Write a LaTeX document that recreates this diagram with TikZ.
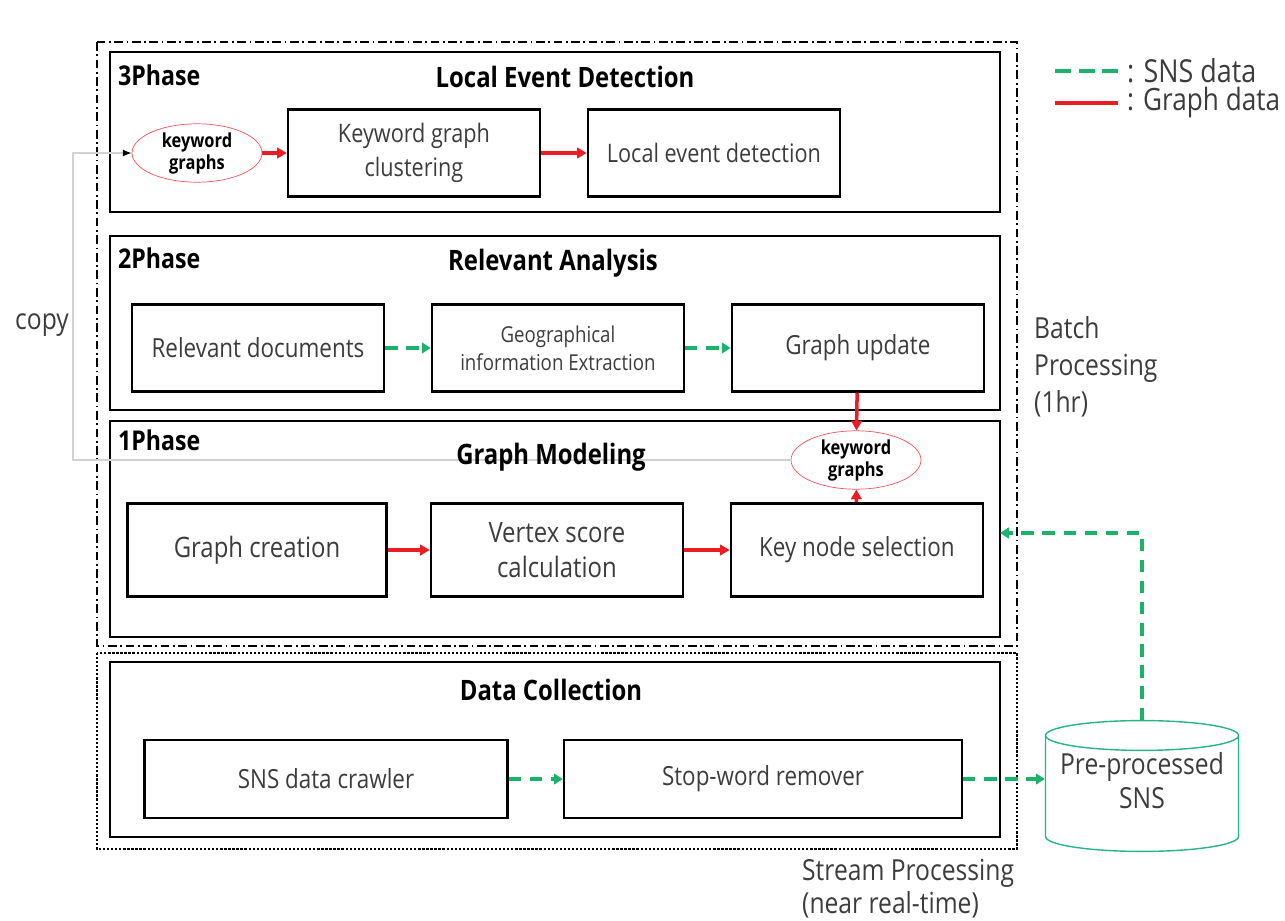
\documentclass[tikz,border=0pt]{standalone}
\usepackage{fontspec}
\setmainfont{Open Sans}[FakeStretch=0.85]
\usepackage{xcolor}
\usetikzlibrary{positioning}
\usetikzlibrary{arrows.meta}
\usetikzlibrary{shapes.geometric}
\definecolor{snsgreen}{RGB}{29,178,108}
\definecolor{graphred}{RGB}{236,28,36}
\definecolor{storeedge}{RGB}{40,180,135}
\definecolor{boxtext}{RGB}{60,60,60}
\tikzset{	node distance=6cm,
	phasebox/.style={
		draw,
		line width=1.4pt,
		minimum width=17.8cm},
	block/.style={
		draw,
		line width=1.4pt,
		align=center,
		text=boxtext,
		font=\fontsize{15}{19}\selectfont,
		minimum width=5.04cm,
		minimum height=1.74cm},
	kwgraph/.style={
		ellipse,
		draw=graphred!75,
		thin,
		align=center,
		inner sep=0pt,
		font=\bfseries\fontsize{11}{12.5}\selectfont,
		minimum width=2.6cm,
		minimum height=0.88cm},
	store/.style={
		cylinder,
		shape border rotate=90,
		aspect=0.17,
		draw=storeedge,
		thick,
		align=center,
		text=boxtext,
		text depth=18pt,
		inner ysep=1pt,
		font=\fontsize{16.5}{19}\selectfont,
		minimum width=3.86cm,
		minimum height=2.34cm},
	title/.style={font=\bfseries\fontsize{16}{19}\selectfont},
	phaselabel/.style={font=\bfseries\fontsize{15.5}{19}\selectfont, anchor=west},
	sidetext/.style={font=\fontsize{16.5}{21}\selectfont, text=boxtext, align=left},
	snsflow/.style={
		draw=snsgreen,
		line width=2.3pt,
		dash pattern=on 7pt off 5pt,
		-{Triangle[length=5pt,width=6pt]}},
	graphflow/.style={
		draw=graphred,
		line width=2pt,
		-{Triangle[length=5.5pt,width=6pt]}},
	copyline/.style={
		draw=gray!35,
		line width=0.8pt,
		-{Latex[length=5pt,width=4pt,color=black]}},
	batchline/.style={
		line width=0.9pt,
		dash pattern=on 5pt off 2pt on 1pt off 2pt},
	streamline/.style={
		line width=1.3pt,
		densely dotted}
}
\begin{document}
\begin{tikzpicture}[x=0.02cm,y=-0.02cm]
	\useasboundingbox (0,0) rectangle (1285,920);
	% processing frames
	\draw[batchline] (97,42) rectangle (1017,646);
	\draw[streamline] (97,653) rectangle (1017,849);
	% phase boxes
	\node[phasebox, minimum height=3.2cm] (p3) at (555,132) {};
	\node[phasebox, minimum height=3.48cm] (p2) at (555,323) {};
	\node[phasebox, minimum height=4.32cm] (p1) at (555,529) {};
	\node[phasebox, minimum height=3.5cm] (p0) at (555,749.5) {};
	% copy path (drawn below the titles)
	\node[kwgraph] (kw3) at (197,153) {keyword\\graphs};
	\node[kwgraph] (kw1) at (856,460) {keyword\\graphs};
	\coordinate (copyturn) at (73,300);
	\draw[copyline] (kw1.west) -| (copyturn) |- (kw3.west);
	\node[sidetext] (copy) at (42,325) {copy};
	% 3Phase
	\node[phaselabel] (l3) at (112,75) {3Phase};
	\node[title] (t3) at (565,77) {Local Event Detection};
	\node[block, font=\fontsize{14.5}{19}\selectfont] (cluster) at (414,153) {Keyword graph\\clustering};
	\node[block, font=\fontsize{14.5}{19}\selectfont, right of=cluster] (detect) {Local event detection};
	% 2Phase
	\node[phaselabel] (l2) at (112,258) {2Phase};
	\node[title] (t2) at (553,263) {Relevant Analysis};
	\node[block] (reldoc) at (258,348) {Relevant documents};
	\node[block, font=\fontsize{12.5}{16}\selectfont, right of=reldoc] (geo) {Geographical\\information Extraction};
	\node[block, right of=geo] (update) {Graph update};
	% 1Phase
	\node[phaselabel] (l1) at (112,440) {1Phase};
	\node[title] (t1) at (551,457) {Graph Modeling};
	\node[block, minimum width=5.18cm, minimum height=1.86cm, font=\fontsize{16}{20}\selectfont] (create) at (257,550) {Graph creation};
	\node[block, minimum height=1.86cm, font=\fontsize{16}{20}\selectfont, right of=create] (vertex) {Vertex score\\calculation};
	\node[block, minimum height=1.86cm, right of=vertex] (keynode) {Key node selection};
	% Data collection
	\node[title] (t0) at (551,690) {Data Collection};
	\node[block, minimum width=7.26cm, minimum height=1.56cm] (crawler) at (326,779) {SNS data crawler};
	\node[block, minimum width=7.96cm, minimum height=1.56cm] (stopword) at (763,779) {Stop-word remover};
	\node[store, anchor=shape center] (store) at (1142,786) {Pre-processed\\SNS};
	% flows
	\draw[graphflow] (kw3) -- (cluster);
	\draw[graphflow] (cluster) -- (detect);
	\draw[snsflow] (reldoc) -- (geo);
	\draw[snsflow] (geo) -- (update);
	\draw[graphflow] (update) -- (kw1);
	\draw[graphflow] (keynode) -- (kw1);
	\draw[graphflow] (create) -- (vertex);
	\draw[graphflow] (vertex) -- (keynode);
	\draw[snsflow] (crawler) -- (stopword);
	\draw[snsflow] (stopword) -- (stopword -| store.west);
	\coordinate (feed) at (1000,533);
	\draw[snsflow] (store.north) |- (feed);
	% side labels
	\node[sidetext, anchor=west] (batch) at (1028,367) {Batch\\Processing\\(1hr)};
	\node[sidetext, anchor=north west, font=\fontsize{16.5}{18.7}\selectfont] (stream) at (796,853) {Stream Processing\\(near real-time)};
	% legend
	\coordinate (lsA) at (1055,71);
	\coordinate (lsB) at (1118,71);
	\coordinate (lgA) at (1055,103);
	\coordinate (lgB) at (1118,103);
	\draw[snsflow, -, dash pattern=on 9pt off 4.5pt] (lsA) -- (lsB);
	\draw[graphflow, -, line width=2.3pt] (lgA) -- (lgB);
	\node[sidetext, anchor=west, font=\fontsize{18}{21}\selectfont] (lsns) at (1121,71) {: SNS data};
	\node[sidetext, anchor=west, font=\fontsize{17.5}{21}\selectfont] (lgraph) at (1121,103) {: Graph data};
\end{tikzpicture}
\end{document}
